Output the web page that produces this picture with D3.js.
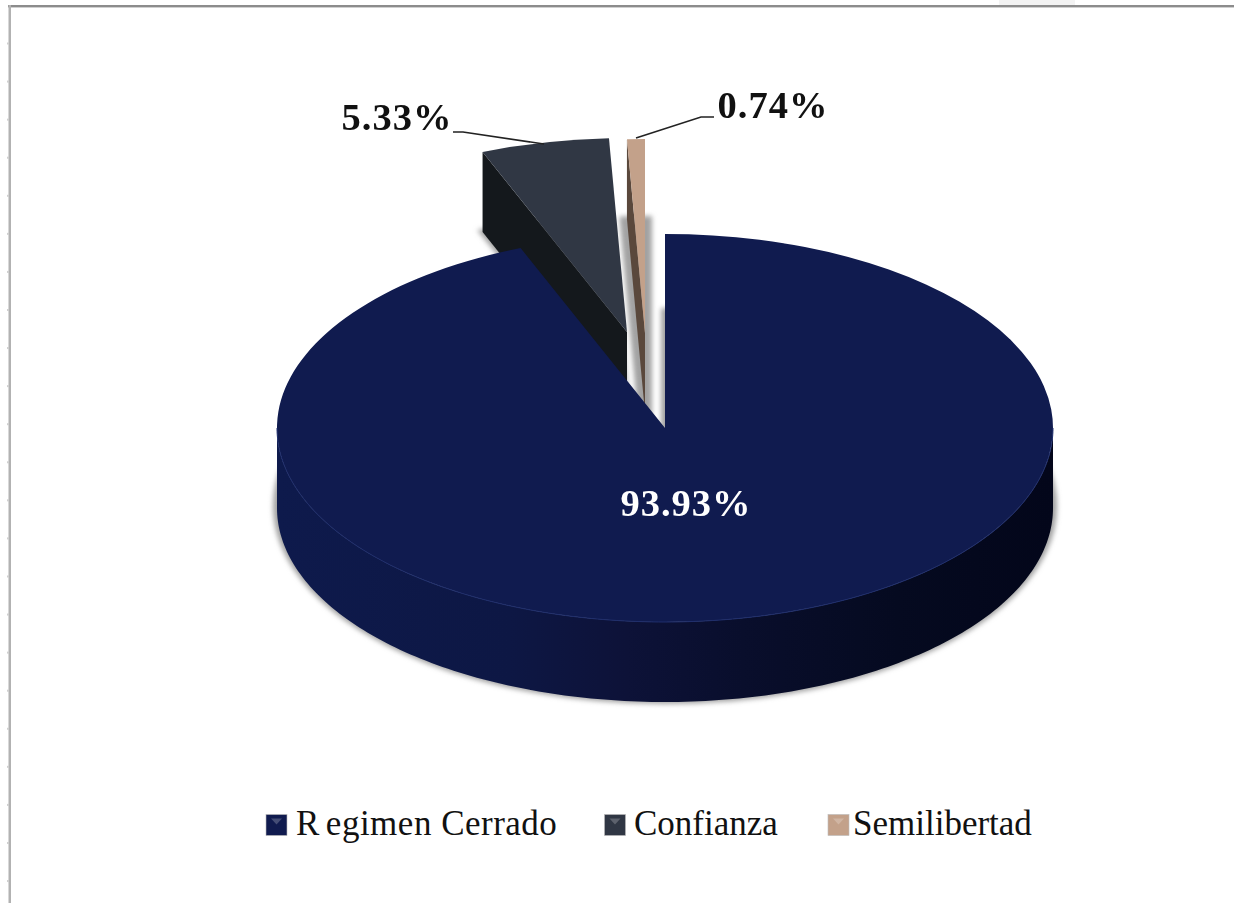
<!DOCTYPE html>
<html>
<head>
<meta charset="utf-8">
<title>Regimen</title>
<script src="https://cdn.jsdelivr.net/npm/d3@7"></script>
<style>
  html, body { margin: 0; padding: 0; background: #fff; }
  svg { display: block; }
  text { font-family: "Liberation Serif", "Times New Roman", serif; fill: #111; }
</style>
</head>
<body>
<svg></svg>
<script>
const categories = ["Regimen Cerrado", "Confianza", "Semilibertad"];
const values = [93.93, 5.33, 0.74];
const valueLabels = ["93.93%", "5.33%", "0.74%"];
const topColors = ["#101b4f", "#303744", "#c3a18a"];
const sideColors = ["#0c1540", "#14181c", "#5a483c"];

const width = 1234;
const height = 903;
const cx = 665;
const cy = 428;
const rx = 388;
const ry = 194;
const depth = 80;

const svg = d3.select("svg")
    .attr("width", width)
    .attr("height", height);

const defs = svg.append("defs");

defs.append("filter")
    .attr("id", "blur")
    .attr("x", "-10%").attr("y", "-10%")
    .attr("width", "120%").attr("height", "120%")
    .append("feGaussianBlur")
    .attr("stdDeviation", 2.4);

const wallGrad = defs.append("linearGradient")
    .attr("id", "wall")
    .attr("gradientUnits", "userSpaceOnUse")
    .attr("x1", cx - rx).attr("x2", cx + rx)
    .attr("y1", 0).attr("y2", 0);
[[0, "#0e1a4c"], [0.3, "#0d1744"], [0.45, "#0d1238"], [0.6, "#090e2c"], [0.8, "#050a20"], [1, "#03061a"]]
    .forEach(s => wallGrad.append("stop").attr("offset", s[0]).attr("stop-color", s[1]));

// page frame and ruler ticks
svg.append("rect").attr("x", 999).attr("y", 0).attr("width", 76).attr("height", 5).attr("fill", "#f3f3f3");
svg.append("rect").attr("x", 8).attr("y", 5).attr("width", width - 8).attr("height", 2).attr("fill", "#8c8c8c");
svg.append("rect").attr("x", 8).attr("y", 7).attr("width", width - 8).attr("height", 1).attr("fill", "#d0d0d0");
svg.append("rect").attr("x", 8.5).attr("y", 5).attr("width", 2.5).attr("height", height - 5).attr("fill", "#b2b2b2");
svg.selectAll(".ruler")
    .data(d3.range(24))
    .enter()
    .append("rect")
    .attr("class", "ruler")
    .attr("x", 7)
    .attr("y", i => 42.5 + i * 38.07)
    .attr("width", 2)
    .attr("height", 2)
    .attr("fill", "#cfcfcf");

const pie = d3.pie().sort(null)(values);
const arc = d3.arc().innerRadius(0).outerRadius(rx);

// pulled out slices, main slice stays where it is
const offsets = [[0, 0], [-38, -96], [-20, -95]];
const shadowSpread = [8, 6, 14];
const shadowShift = [-2, 0, 4];

const project = (a, o) => [cx + o[0] + rx * Math.sin(a), cy + o[1] - ry * Math.cos(a)];

// soft shadow under the slices
const shadow = svg.append("g").attr("filter", "url(#blur)");
shadow.selectAll("path")
    .data(pie)
    .enter()
    .append("path")
    .attr("transform", (d, i) => `translate(${cx + offsets[i][0]},${cy + offsets[i][1] + depth + shadowShift[i]}) scale(1,0.5)`)
    .attr("d", arc)
    .attr("fill", "#a2a2a2")
    .attr("stroke", "#a2a2a2")
    .attr("stroke-width", (d, i) => shadowSpread[i])
    .attr("vector-effect", "non-scaling-stroke");

// side walls of the two pulled slices
const sideLine = d3.line();
[1, 2].forEach(i => {
    const p = project(pie[i].startAngle, offsets[i]);
    const apex = [cx + offsets[i][0], cy + offsets[i][1]];
    svg.append("path")
        .attr("d", sideLine([p, apex, [apex[0], apex[1] + depth], [p[0], p[1] + depth]]) + "Z")
        .attr("fill", sideColors[i]);
    svg.append("path")
        .attr("transform", `translate(${apex[0]},${apex[1]}) scale(1,0.5)`)
        .attr("d", d3.arc().innerRadius(0).outerRadius(rx)(pie[i]))
        .attr("fill", topColors[i]);
});

// front wall of the big slice
const frontAngles = d3.range(Math.PI / 2, Math.PI * 1.5 + 0.001, Math.PI / 180);
const topEdge = frontAngles.map(a => project(a, [0, 0]));
const bottomEdge = frontAngles.map(a => project(a, [0, depth])).reverse();
svg.append("path")
    .attr("d", sideLine(topEdge.concat(bottomEdge)) + "Z")
    .attr("fill", "url(#wall)");

svg.append("path")
    .attr("transform", `translate(${cx},${cy}) scale(1,0.5)`)
    .attr("d", arc(pie[0]))
    .attr("fill", topColors[0]);

svg.append("path")
    .attr("d", sideLine(topEdge))
    .attr("fill", "none")
    .attr("stroke", "#1f2e6c")
    .attr("stroke-width", 1);

// leader lines
const leaders = [
    [[453, 132], [463, 132], [544, 144]],
    [[714, 117], [701, 117], [636, 138]]
];
leaders.forEach(l => {
    svg.append("path")
        .attr("d", sideLine(l))
        .attr("fill", "none")
        .attr("stroke", "#222")
        .attr("stroke-width", 1.6);
});

// value labels
const labelPos = [[686, 516, "#fff"], [397, 130, "#111"], [773, 118, "#111"]];
svg.selectAll(".value")
    .data(valueLabels)
    .enter()
    .append("text")
    .attr("class", "value")
    .attr("x", (d, i) => labelPos[i][0])
    .attr("y", (d, i) => labelPos[i][1])
    .attr("text-anchor", "middle")
    .attr("font-size", 38.5)
    .attr("font-weight", "bold")
    .attr("letter-spacing", 1)
    .style("fill", (d, i) => labelPos[i][2])
    .text(d => d);

// legend
const legendX = [266, 604.5, 828];
const legend = svg.selectAll(".legend")
    .data(categories)
    .enter()
    .append("g")
    .attr("class", "legend")
    .attr("transform", (d, i) => `translate(${legendX[i]},814.5)`);

legend.append("rect")
    .attr("width", 21)
    .attr("height", 21)
    .attr("fill", (d, i) => topColors[i])
    .attr("stroke", "#bbb")
    .attr("stroke-width", 0.6);

legend.append("path")
    .attr("d", "M5,4L16,4L10.5,10Z")
    .attr("fill", "#fff")
    .attr("opacity", 0.22);

legend.append("text")
    .attr("x", (d, i) => [30, 29.5, 25][i])
    .attr("y", 20.5)
    .attr("font-size", 35)
    .attr("dx", (d, i) => i === 0 ? "0 6" : null)
    .attr("letter-spacing", (d, i) => i === 0 ? 0.5 : null)
    .text(d => d);
</script>
</body>
</html>
